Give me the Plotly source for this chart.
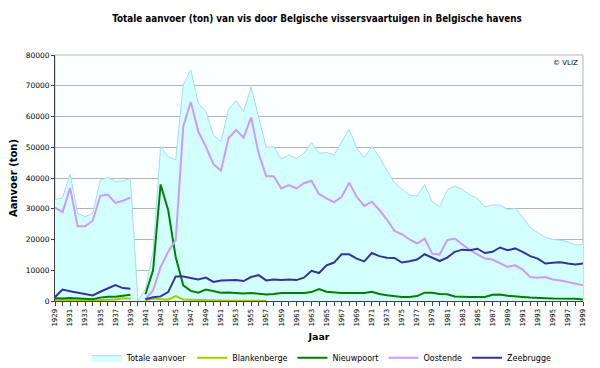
import plotly.graph_objects as go

years = list(range(1929, 2000))

totale = [33000, 33600, 41300, 28500, 27400, 28500, 39300, 40200, 38900, 39100, 39800,
          0, 4000, 16000, 50200, 46900, 45900, 70300, 75200, 64400, 61600,
          54000, 51800, 62200, 65200, 61600, 69600, 60000, 50000, 50200, 46100,
          47500, 46400, 48000, 51600, 48000, 48300, 47500, 51800, 55900, 49700,
          46700, 50200, 46900, 42400, 38500, 36300, 34500, 34100, 37900, 32300,
          30600, 36100, 37400, 36300, 34500, 33400, 30600, 31200, 31200, 29800,
          30100, 27400, 23900, 22200, 20700, 20000, 19800, 19200, 18200, 18400]

blankenberge = [400, 300, 300, 200, 200, 200, 400, 400, 500, 900, 800,
                None, 300, 800, 600, 400, 1600, 500, 400, 300, 300,
                200, 100, 100, 100, 100, 100, 100, 100] + [None] * 42

nieuwpoort = [900, 800, 1000, 800, 700, 600, 1100, 1400, 1400, 1800, 2000,
              None, 2200, 10000, 37900, 29600, 14300, 5100, 3300, 2700, 3700,
              3300, 2700, 2800, 2500, 2400, 2600, 2300, 2100, 2300, 2600,
              2600, 2600, 2600, 2900, 3900, 3000, 2700, 2600, 2600, 2500,
              2600, 3000, 2300, 1900, 1500, 1300, 1300, 1600, 2700, 2700,
              2300, 2200, 1500, 1300, 1300, 1300, 1300, 2000, 2100, 1700,
              1400, 1300, 1100, 900, 900, 800, 800, 800, 700, 500]

oostende = [30400, 28900, 36800, 24300, 24300, 26100, 34200, 34600, 31900, 32600, 33600,
            None, 500, 3500, 11000, 16000, 19800, 56700, 64700, 55100, 50200,
            44500, 42400, 52900, 55600, 53100, 59700, 48000, 40600, 40600, 36600,
            37700, 36600, 38300, 39100, 34800, 33400, 32100, 33900, 38500, 33900,
            30900, 32300, 29600, 26500, 22800, 21700, 20000, 18700, 20300, 15400,
            15100, 19800, 20300, 18400, 16600, 15200, 13800, 13500, 12200, 11100,
            11600, 10200, 7800, 7600, 7800, 7000, 6700, 6200, 5700, 5100]

zeebrugge = [1300, 3700, 3200, 2700, 2100, 1800, 3000, 4000, 5200, 4200, 4000,
             None, 600, 1200, 1500, 2900, 8000, 8000, 7500, 7000, 7600,
             6200, 6700, 6800, 6800, 6500, 7800, 8400, 6700, 7000, 6800,
             7000, 6800, 7600, 9800, 9100, 11600, 12500, 15200, 15200, 13800,
             12900, 15600, 14600, 14100, 14000, 12500, 12900, 13500, 15200, 14100,
             13000, 14100, 16000, 16700, 16500, 17000, 15600, 16000, 17400, 16500,
             17100, 16000, 14600, 13800, 12200, 12400, 12600, 12200, 11900, 12200]

xtick_vals = list(range(1929, 2000, 2))
xtick_text = [str(y) for y in xtick_vals]
ytick_vals = list(range(0, 80001, 10000))

FONT = "DejaVu Sans"
TITLE_FONT = "DejaVu Sans Condensed, Liberation Sans, DejaVu Sans"

fig = go.Figure()
fig.add_trace(go.Scatter(x=years, y=totale, name="Totale aanvoer", mode="lines",
                         fill="tozeroy", fillcolor="#d4ffff",
                         line=dict(color="#a8d8f8", width=1)))
fig.add_trace(go.Scatter(x=years, y=blankenberge, name="Blankenberge", mode="lines",
                         line=dict(color="#a8c800", width=2)))
fig.add_trace(go.Scatter(x=years, y=nieuwpoort, name="Nieuwpoort", mode="lines",
                         line=dict(color="#008000", width=2)))
fig.add_trace(go.Scatter(x=years, y=oostende, name="Oostende", mode="lines",
                         line=dict(color="#cc99ff", width=2)))
fig.add_trace(go.Scatter(x=years, y=zeebrugge, name="Zeebrugge", mode="lines",
                         line=dict(color="#333399", width=2)))

# the page body adds an 8px offset, so the figure is sized 592x360
fig.update_layout(
    width=592, height=360,
    margin=dict(l=47, r=17, t=47, b=67),
    paper_bgcolor="white", plot_bgcolor="#fcffff",
    font=dict(family=FONT, color="#000000", size=8),
    title=dict(text="<b>Totale aanvoer (ton) van vis door Belgische vissersvaartuigen in Belgische havens</b>",
               x=0.522, xanchor="center", y=0.972, yanchor="middle",
               font=dict(family=TITLE_FONT, size=9.8)),
    showlegend=True,
    legend=dict(orientation="h", x=0.505, xanchor="center", yref="container", y=0.069, yanchor="top",
                font=dict(family=FONT, size=8), itemwidth=30, tracegroupgap=0,
                bgcolor="rgba(0,0,0,0)"),
    xaxis=dict(range=[1929, 1999], tickmode="array", tickvals=xtick_vals, ticktext=xtick_text,
               tickangle=-90, tickfont=dict(size=7), ticks="outside", ticklen=4,
               tickcolor="#404040", showline=True, linecolor="#404040", linewidth=1,
               showgrid=False, zeroline=False, mirror=False, automargin=False,
               minor=dict(dtick=1, tick0=1929, ticks="outside", ticklen=4, tickcolor="#404040"),
               title=dict(text="<b>Jaar</b>", font=dict(size=9.5), standoff=7)),
    yaxis=dict(range=[0, 80000], tickmode="array", tickvals=ytick_vals, tickformat="d",
               tickfont=dict(size=7.5), ticks="outside", ticklen=3, tickcolor="#404040",
               showline=True, linecolor="#404040", linewidth=1, automargin=False,
               showgrid=True, gridcolor="#b4b4b4", gridwidth=1, zeroline=False,
               title=dict(text="<b>Aanvoer (ton)</b>", font=dict(size=10), standoff=14)),
)

fig.add_shape(type="rect", xref="paper", yref="paper", x0=0, y0=0, x1=1, y1=1,
              line=dict(color="#b4b4b4", width=1), layer="below")

fig.add_annotation(text="© VLIZ", xref="paper", yref="paper", x=0.995, y=0.99,
                   xanchor="right", yanchor="top", showarrow=False,
                   font=dict(family=FONT, size=7))

fig.write_html("out.html")
